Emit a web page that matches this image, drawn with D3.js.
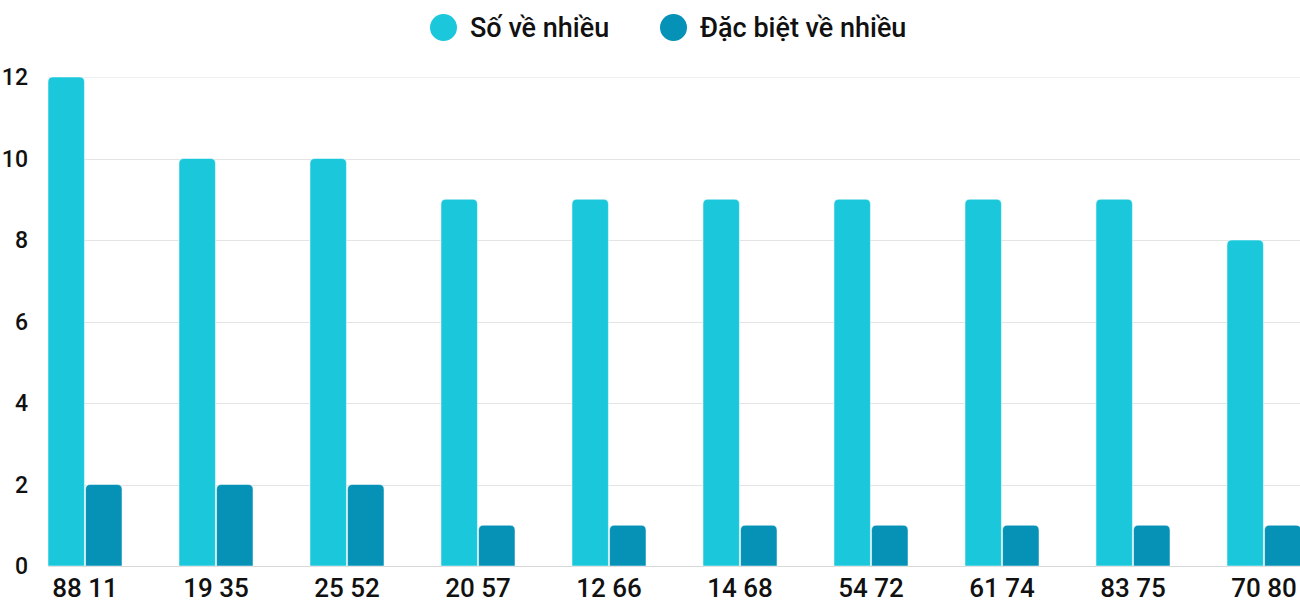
<!DOCTYPE html>
<html lang="vi">
<head>
    <meta charset="UTF-8">
    <title>Số về nhiều</title>
    <script src="https://d3js.org/d3.v7.min.js"></script>
    <style>
        body { margin: 0; background: white; font-family: Roboto, sans-serif; }
    </style>
</head>
<body>
    <div id="chart"></div>
    <script>
        // data
        const categories = ["88 11", "19 35", "25 52", "20 57", "12 66", "14 68", "54 72", "61 74", "83 75", "70 80"];
        const seriesNames = ["Số về nhiều", "Đặc biệt về nhiều"];
        const soVeNhieu = [12, 10, 10, 9, 9, 9, 9, 9, 9, 8];
        const dacBiet = [2, 2, 2, 1, 1, 1, 1, 1, 1, 1];
        const yTicks = [0, 2, 4, 6, 8, 10, 12];
        const colors = ["#1bc8db", "#0592b6"];

        const width = 1300, height = 600;
        const plot = {left: 48, right: 1301, top: 77, bottom: 566};

        const svg = d3.select("#chart").append("svg")
            .attr("width", width)
            .attr("height", height);

        const x = d3.scaleBand()
            .domain(categories)
            .range([plot.left, plot.right])
            .paddingInner(0.435)
            .paddingOuter(0);

        const xSub = d3.scaleBand()
            .domain([0, 1])
            .range([0, x.bandwidth()])
            .paddingInner(0.03);

        const y = d3.scaleLinear()
            .domain([0, 12])
            .range([plot.bottom, plot.top]);

        // gridlines
        svg.append("g").selectAll("line")
            .data(yTicks)
            .join("line")
            .attr("x1", plot.left)
            .attr("x2", width)
            .attr("y1", d => Math.round(y(d)) + 0.5)
            .attr("y2", d => Math.round(y(d)) + 0.5)
            .attr("stroke", d => d === 12 ? "#f0f0f0" : (d === 0 ? "#d8d8d8" : "#e4e4e4"))
            .attr("stroke-width", 1);

        // y labels
        svg.append("g").selectAll("text")
            .data(yTicks)
            .join("text")
            .attr("x", 28)
            .attr("y", d => y(d))
            .attr("dy", "0.35em")
            .attr("text-anchor", "end")
            .attr("font-size", "23px")
            .attr("font-weight", 500)
            .attr("fill", "#111")
            .text(d => d);

        // rounded-top bar path
        function barPath(x0, w, yTop, yBot, r) {
            r = Math.min(r, (yBot - yTop), w / 2);
            return `M${x0},${yBot}V${yTop + r}Q${x0},${yTop} ${x0 + r},${yTop}H${x0 + w - r}Q${x0 + w},${yTop} ${x0 + w},${yTop + r}V${yBot}Z`;
        }

        const rows = categories.map((c, i) => ({cat: c, vals: [soVeNhieu[i], dacBiet[i]]}));

        const groups = svg.append("g").selectAll("g")
            .data(rows)
            .join("g")
            .attr("transform", d => `translate(${x(d.cat)},0)`);

        groups.selectAll("path")
            .data(d => d.vals.map((v, k) => ({v, k})))
            .join("path")
            .attr("fill", d => colors[d.k])
            .attr("stroke", "white")
            .attr("stroke-width", 0.5)
            .attr("d", d => barPath(xSub(d.k), xSub.bandwidth(), y(d.v), y(0), 5));

        // x labels
        svg.append("g").selectAll("text")
            .data(categories)
            .join("text")
            .attr("x", d => x(d) + x.bandwidth() / 2)
            .attr("y", 597)
            .attr("text-anchor", "middle")
            .attr("font-size", "26px")
            .attr("font-weight", 500)
            .attr("fill", "#111")
            .text(d => d);

        // legend
        const legendX = [443.5, 673.5];
        const legend = svg.append("g").selectAll("g")
            .data(seriesNames)
            .join("g")
            .attr("transform", (d, i) => `translate(${legendX[i]},27.5)`);
        legend.append("circle")
            .attr("r", 13.5)
            .attr("fill", (d, i) => colors[i]);
        legend.append("text")
            .attr("x", 26.5)
            .attr("dy", "0.35em")
            .attr("font-size", "27px")
            .attr("font-weight", 500)
            .attr("fill", "#111")
            .text(d => d);
    </script>
</body>
</html>
